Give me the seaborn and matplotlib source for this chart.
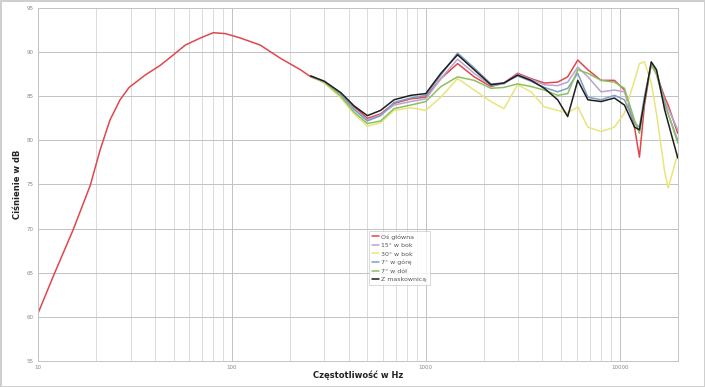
import numpy as np
import pandas as pd
import matplotlib
matplotlib.use("Agg")
import matplotlib.pyplot as plt
import seaborn as sns
from matplotlib.ticker import LogLocator, FixedLocator, NullFormatter

# ---- data ----
series_names = ["Oś główna", "15° w bok", "30° w bok", "7° w górę", "7° w dół", "Z maskownicą"]

freq_lo = [10, 12.2, 15.2, 18.6, 20.9, 23.5, 26.5, 29.5, 35.7, 42.7, 50, 57.5,
           68.8, 80.2, 92.5, 110.6, 140, 178, 226]
red_lo = [60.4, 65.0, 69.9, 74.9, 78.9, 82.3, 84.6, 86.0, 87.4, 88.5, 89.7, 90.8,
          91.6, 92.2, 92.1, 91.6, 90.8, 89.3, 88.0]

freq_hi = [255, 300, 365, 427, 500, 585, 686, 836, 1000, 1197, 1459, 1778, 2168,
           2530, 2977, 3491, 4088, 4790, 5395, 6082, 6857, 8020, 9400, 10590,
           11930, 12650, 13430, 14560, 15500, 17060, 17800, 19950]
red_hi = [87.2, 86.6, 85.3, 83.8, 82.5, 83.0, 84.2, 84.7, 84.9, 87.0, 88.7, 87.2, 86.1,
          86.5, 87.6, 87.0, 86.5, 86.6, 87.2, 89.1, 88.0, 86.8, 86.8, 85.7,
          81.5, 78.1, 84.0, 88.7, 87.5, 84.9, 84.0, 80.8]
deg15 = [87.3, 86.6, 85.3, 83.6, 82.3, 82.9, 84.0, 84.4, 84.7, 87.0, 89.2, 87.6, 86.2,
         86.4, 87.5, 86.9, 86.3, 86.2, 86.6, 88.3, 87.2, 85.5, 85.7, 85.5,
         82.0, 81.0, 84.5, 88.6, 87.5, 84.5, 83.6, 81.2]
deg30 = [87.3, 86.5, 84.8, 83.0, 81.6, 82.0, 83.4, 83.7, 83.4, 84.9, 87.0, 85.7, 84.4,
         83.6, 86.3, 85.5, 83.8, 83.4, 83.1, 83.8, 81.5, 81.0, 81.5, 83.1,
         86.8, 88.7, 88.9, 86.5, 83.0, 76.5, 74.6, 78.5]
up7 = [87.3, 86.6, 85.2, 83.5, 82.2, 82.8, 84.3, 84.8, 85.1, 87.4, 89.9, 88.2, 86.4,
       86.5, 87.3, 86.7, 86.0, 85.5, 85.9, 87.6, 84.9, 84.6, 85.1, 84.6,
       82.0, 81.5, 85.0, 88.6, 87.8, 84.3, 83.0, 80.0]
down7 = [87.3, 86.6, 85.0, 83.2, 81.9, 82.2, 83.6, 84.0, 84.4, 86.1, 87.2, 86.8, 85.9,
         86.0, 86.4, 86.1, 85.7, 85.1, 85.3, 88.0, 87.6, 86.8, 86.6, 85.9,
         82.3, 80.8, 84.5, 88.7, 87.5, 84.0, 83.0, 79.7]
grille = [87.3, 86.7, 85.4, 83.9, 82.8, 83.4, 84.6, 85.1, 85.3, 87.6, 89.7, 88.0, 86.3,
          86.5, 87.4, 86.8, 85.9, 84.6, 82.7, 86.8, 84.6, 84.4, 84.8, 84.0,
          81.5, 81.2, 84.5, 88.9, 88.0, 83.5, 82.0, 78.0]

x_ticks = [10, 100, 1000, 10000]
x_ticklabels = ["10", "100", "1000", "10000"]
y_ticks = [55, 60, 65, 70, 75, 80, 85, 90, 95]

colors = ["#e0474c", "#b8a4cf", "#e9e57a", "#7f9fc4", "#8cc063", "#1e1e1e"]

# ---- build long table ----
frames = [pd.DataFrame({"f": freq_lo + freq_hi, "db": red_lo + red_hi, "series": series_names[0]})]
for name, vals in zip(series_names[1:], [deg15, deg30, up7, down7, grille]):
    frames.append(pd.DataFrame({"f": freq_hi, "db": vals, "series": name}))
df = pd.concat(frames, ignore_index=True)

sns.set_theme(style="white")
plt.rcParams["font.family"] = ["DejaVu Sans"]

fig = plt.figure(figsize=(7.05, 3.87), dpi=100)
fig.patch.set_facecolor("white")
fig.patch.set_edgecolor("#cfcfcf")
fig.patch.set_linewidth(2)
ax = fig.add_axes([38 / 705, 1 - 361 / 387, 640 / 705, 353 / 387])

sns.lineplot(data=df, x="f", y="db", hue="series", hue_order=series_names,
             palette=colors, estimator=None, sort=True, linewidth=1.1, ax=ax)

ax.set_xscale("log")
ax.set_xlim(10, 20000)
ax.set_ylim(55, 95)
ax.xaxis.set_major_locator(FixedLocator(x_ticks))
ax.set_xticklabels(x_ticklabels)
ax.xaxis.set_minor_locator(LogLocator(base=10, subs=np.arange(2, 10)))
ax.xaxis.set_minor_formatter(NullFormatter())
ax.set_yticks(y_ticks)
ax.set_yticklabels([str(v) for v in y_ticks])

ax.grid(which="major", axis="both", color="#c2c2c2", linewidth=0.7)
ax.grid(which="minor", axis="x", color="#d4d4d4", linewidth=0.6)
ax.set_axisbelow(True)
for s in ax.spines.values():
    s.set_color("#c4c4c4")
    s.set_linewidth(0.7)
ax.tick_params(axis="both", which="both", labelsize=4, colors="#888888", length=0, pad=3)

ax.set_xlabel("Częstotliwość w Hz", fontsize=6, fontweight="bold", color="#222222")
ax.set_ylabel("Ciśnienie w dB", fontsize=6, fontweight="bold", color="#222222")
ax.xaxis.set_label_coords(0.5, -0.028)
ax.yaxis.set_label_coords(-16 / 640, 0.5)

leg = ax.legend(loc="upper left", bbox_to_anchor=(0.512, 0.377), fontsize=4.5,
                frameon=True, fancybox=False, handlelength=1.2, handletextpad=0.3,
                borderpad=0.5, labelspacing=0.5, title=None)
leg.get_frame().set_edgecolor("#c8c8c8")
leg.get_frame().set_linewidth(0.6)
for t in leg.get_texts():
    t.set_color("#555555")

fig.savefig("out.png", dpi=100, facecolor=fig.get_facecolor(), edgecolor=fig.get_edgecolor())
